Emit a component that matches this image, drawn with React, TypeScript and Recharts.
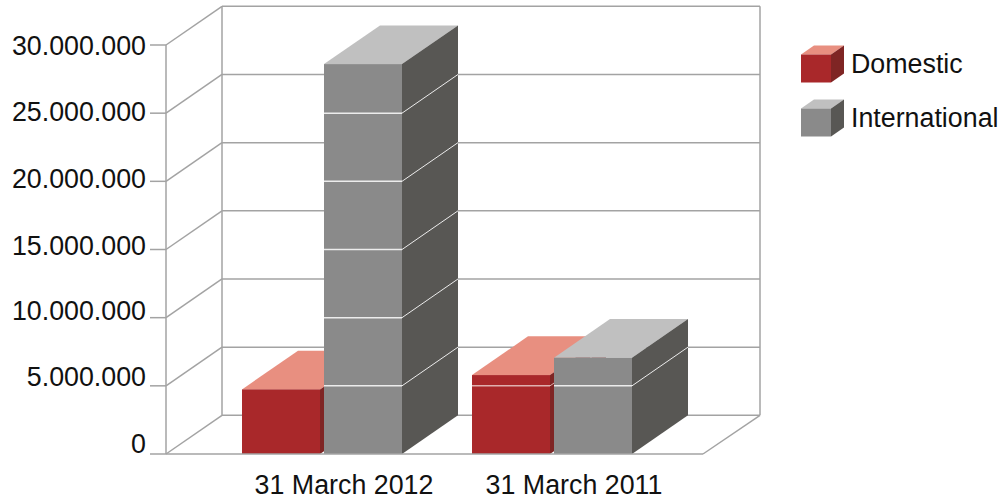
import React from "react"
import { BarChart, Bar, XAxis, YAxis, CartesianGrid, Legend } from "recharts"

const categories = ["31 March 2012", "31 March 2011"]
const domesticValues = [4740000, 5790000]
const internationalValues = [28600000, 7060000]
const yTicks = [0, 5000000, 10000000, 15000000, 20000000, 25000000, 30000000]
const yTickLabels = ["0", "5.000.000", "10.000.000", "15.000.000", "20.000.000", "25.000.000", "30.000.000"]
const yLabelBaseline = [-1, 0, 2, 5, 7, 8, 10]

const data = categories.map((period, i) => ({
  period,
  domestic: domesticValues[i],
  international: internationalValues[i],
}))

const FONT = '"Liberation Sans", Arial, sans-serif'
const FONT_SIZE = 26.8
const GRID = "#a3a3a3"
const DX = 56
const DY = 38.7
const PLOT_TOP = 45
const PLOT_BOTTOM = 454
const PLOT_RIGHT = 703

const RED = { front: "#a9282a", side: "#7f2524", top: "#e88f80", line: "#e0b0ae" }
const GREY = { front: "#8a8a8a", side: "#585754", top: "#c0c0c0", line: "#ececec" }

type Shade = typeof RED

// one wall line per y tick, the frame is added on the top tick
function wallLine(props: any) {
  const { x1, y1, index } = props
  const isTop = Math.abs(y1 - PLOT_TOP) < 1
  return (
    <g key={`wall-${index}`} stroke={GRID} strokeWidth={1.5} fill="none">
      <line x1={x1} y1={y1} x2={x1 + DX} y2={y1 - DY} />
      <line x1={x1 + DX} y1={y1 - DY} x2={PLOT_RIGHT + DX + 1} y2={y1 - DY} />
      {isTop && (
        <>
          <line x1={x1 + DX} y1={y1 - DY} x2={x1 + DX} y2={PLOT_BOTTOM - DY} />
          <line x1={PLOT_RIGHT + DX + 1} y1={y1 - DY} x2={PLOT_RIGHT + DX + 1} y2={PLOT_BOTTOM - DY} />
          <line x1={PLOT_RIGHT} y1={PLOT_BOTTOM} x2={PLOT_RIGHT + DX + 1} y2={PLOT_BOTTOM - DY} />
        </>
      )}
    </g>
  )
}

function Box3D(props: any, shade: Shade) {
  const { x, y, width, height, value } = props
  const base = y + height
  const pxPerUnit = height / value
  const right = x + width
  const crossing = yTicks.filter((t) => t > 0 && t < value).map((t) => base - t * pxPerUnit)
  return (
    <g>
      <polygon points={`${x},${y} ${right},${y} ${right + DX},${y - DY} ${x + DX},${y - DY}`} fill={shade.top} />
      <polygon points={`${right},${y} ${right + DX},${y - DY} ${right + DX},${base - DY} ${right},${base}`} fill={shade.side} />
      <rect x={x} y={y} width={width} height={height} fill={shade.front} />
      {crossing.map((ty) => (
        <g key={ty} stroke={shade.line} fill="none">
          <line x1={x} y1={ty} x2={right} y2={ty} strokeWidth={1.5} />
          <line x1={right} y1={ty} x2={right + DX} y2={ty - DY} strokeWidth={1} />
        </g>
      ))}
    </g>
  )
}

function YTick({ x, y, payload }: any) {
  const i = yTicks.indexOf(payload.value)
  return (
    <text x={x} y={y + yLabelBaseline[i]} textAnchor="end" fontFamily={FONT} fontSize={FONT_SIZE} fill="#111">
      {yTickLabels[i]}
    </text>
  )
}

function XTick({ x, y, payload }: any) {
  return (
    <text x={x + 22} y={y + 32} textAnchor="middle" fontFamily={FONT} fontSize={FONT_SIZE} fill="#111">
      {payload.value}
    </text>
  )
}

function LegendCube({ shade, label }: { shade: Shade; label: string }) {
  return (
    <div style={{ display: "flex", alignItems: "center", height: 54 }}>
      <svg width={46} height={40} style={{ flex: "none" }}>
        <polygon points="0,9.5 30,9.5 43,0.5 13,0.5" fill={shade.top} />
        <polygon points="30,9.5 43,0.5 43,28.5 30,37.5" fill={shade.side} />
        <rect x={0} y={9.5} width={30} height={28} fill={shade.front} />
      </svg>
      <span style={{ fontFamily: FONT, fontSize: FONT_SIZE, color: "#111", marginLeft: 4, marginTop: -2, whiteSpace: "nowrap" }}>{label}</span>
    </div>
  )
}

function LegendBoxes() {
  return (
    <div>
      <LegendCube shade={RED} label="Domestic" />
      <LegendCube shade={GREY} label="International" />
    </div>
  )
}

export default function App() {
  return (
    <div style={{ position: "absolute", left: 0, top: 0, width: 1000, height: 499, background: "#fff" }}>
      <BarChart
        width={1000}
        height={499}
        data={data}
        margin={{ top: PLOT_TOP, right: 1000 - PLOT_RIGHT, bottom: 0, left: 16 }}
        barSize={78}
        barGap={4}
      >
        <CartesianGrid vertical={false} horizontal={wallLine} />
        <XAxis
          dataKey="period"
          height={499 - PLOT_BOTTOM}
          padding={{ left: 41, right: 36 }}
          tickLine={false}
          axisLine={{ stroke: GRID, strokeWidth: 1.5 }}
          tick={<XTick />}
          interval={0}
        />
        <YAxis
          width={150}
          domain={[0, 30000000]}
          ticks={yTicks}
          tickSize={16}
          tickMargin={4}
          axisLine={{ stroke: GRID, strokeWidth: 1.5 }}
          tickLine={{ stroke: GRID, strokeWidth: 1.5 }}
          tick={<YTick />}
          interval={0}
        />
        <Legend
          layout="horizontal"
          verticalAlign="middle"
          align="center"
          content={<LegendBoxes />}
          wrapperStyle={{ left: 801, top: 38, width: 199, height: 110 }}
        />
        <Bar dataKey="domestic" name="Domestic" isAnimationActive={false} shape={(p: any) => Box3D(p, RED)} />
        <Bar dataKey="international" name="International" isAnimationActive={false} shape={(p: any) => Box3D(p, GREY)} />
      </BarChart>
    </div>
  )
}
